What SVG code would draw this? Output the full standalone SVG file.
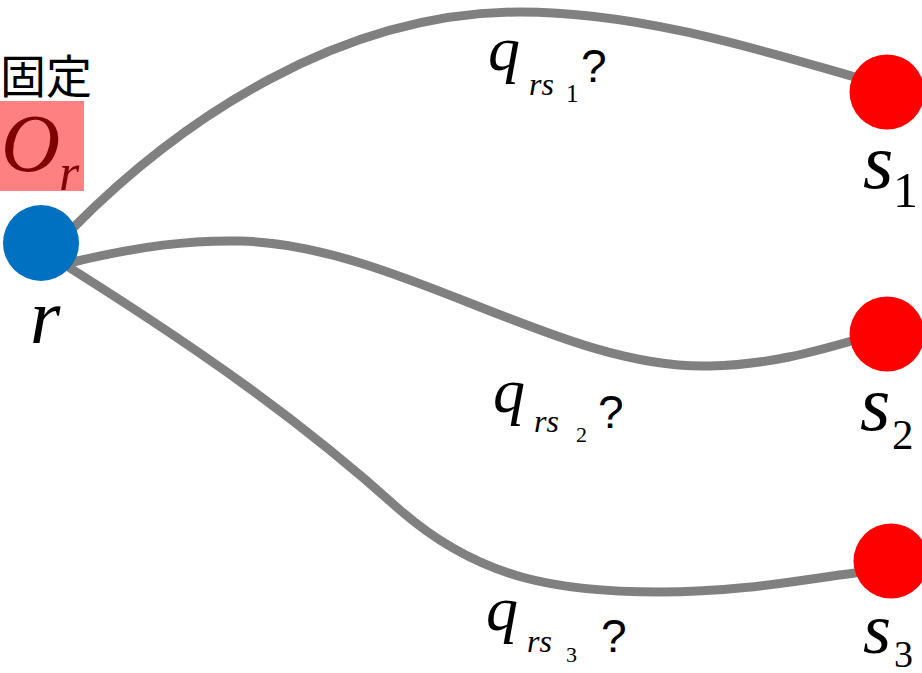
<svg xmlns="http://www.w3.org/2000/svg" width="922" height="673" viewBox="0 0 922 673">
<style>
.edge{fill:none;stroke:#808080;stroke-width:9;stroke-linecap:round}
.m{font-family:'Liberation Serif','Times New Roman',serif;font-style:italic}
.d{font-family:'Liberation Serif','Times New Roman',serif}
.qm{font-family:'Liberation Sans',Arial,sans-serif}
.src{fill:#0070C0}
.snk{fill:#FF0000}
.dr{fill:#800000}
</style>
<g id="connectors">
<path class="edge" d="M73,228 C180,120 340,12 520,12 C640,12 760,50 855,77"/>
<path class="edge" d="M73,262 C140,246 190,240 240,241 C400,245 560,370 710,366 C770,365 820,350 855,340"/>
<path class="edge" d="M70,268 C200,350 300,420 400,510 C480,580 560,592 660,592 C740,592 800,580 855,573"/>
</g>
<g id="node-r">
<text x="0" y="93" font-size="46" style="font-family:'Noto Sans CJK JP','Noto Sans CJK SC',sans-serif">固定</text>
<rect x="0" y="101" width="84" height="90" fill="#FF8080"/>
<text class="m dr" x="1" y="171" font-size="82">O</text>
<text class="m dr" x="59" y="190" font-size="52">r</text>
<circle class="src" cx="41" cy="243" r="38"/>
<text class="m" x="30" y="343" font-size="78">r</text>
</g>
<g id="node-s1">
<circle class="snk" cx="887" cy="92" r="37.5"/>
<text class="m" x="863" y="188" font-size="78">s</text>
<text class="d" x="893" y="207" font-size="50">1</text>
</g>
<g id="node-s2">
<circle class="snk" cx="887" cy="334" r="37.5"/>
<text class="m" x="860" y="430" font-size="78">s</text>
<text class="d" x="892" y="449" font-size="43">2</text>
</g>
<g id="node-s3">
<circle class="snk" cx="891" cy="561" r="37.5"/>
<text class="m" x="863" y="653" font-size="72">s</text>
<text class="d" x="894" y="667" font-size="38">3</text>
</g>
<g id="label-q1">
<text class="m" x="488" y="70" font-size="64">q</text>
<text class="m" x="529" y="95" font-size="32">rs</text>
<text class="d" x="566" y="102" font-size="25">1</text>
<text class="qm" x="581" y="82" font-size="46">?</text>
</g>
<g id="label-q2">
<text class="m" x="493" y="412" font-size="64">q</text>
<text class="m" x="534" y="432" font-size="32">rs</text>
<text class="d" x="576" y="442" font-size="22">2</text>
<text class="qm" x="598" y="428" font-size="46">?</text>
</g>
<g id="label-q3">
<text class="m" x="486" y="630" font-size="64">q</text>
<text class="m" x="527" y="652" font-size="32">rs</text>
<text class="d" x="566" y="662" font-size="22">3</text>
<text class="qm" x="601" y="652" font-size="46">?</text>
</g>
</svg>
